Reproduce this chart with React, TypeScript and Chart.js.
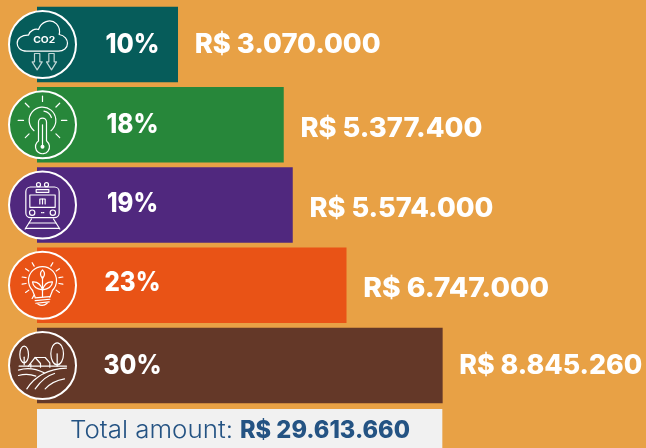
import React, { useEffect, useRef } from "react";
import { Chart, registerables } from "chart.js";

Chart.register(...registerables);

const categories = ["CO2", "Temperature", "Transport", "Energy", "Land"];
const amounts = [3070000, 5377400, 5574000, 6747000, 8845260];
const percents = ["10%", "18%", "19%", "23%", "30%"];
const amountLabels = ["R$ 3.070.000", "R$ 5.377.400", "R$ 5.574.000", "R$ 6.747.000", "R$ 8.845.260"];
const totalPrefix = "Total amount: ";
const totalValue = "R$ 29.613.660";

const colors = ["#065C5A", "#27873A", "#50287E", "#E95316", "#643828"];
const BG = "#E8A145";
const FONT = "Inter, 'Open Sans', sans-serif";
const pctDy = [0, 0, -1, -2, 0];
const pctW = [54, 52, 51, 56, 58];
const valDy = [0, 4, 4, 4, 0];
const valW = [186, 182, 184, 186, 183];

type C = CanvasRenderingContext2D;

function stretchText(ctx: C, s: string, x: number, y: number, w: number, align: "left" | "center" = "left") {
  const m = ctx.measureText(s).width;
  const k = w / m;
  ctx.save();
  ctx.translate(x, y);
  ctx.scale(k, 1);
  ctx.textAlign = align;
  ctx.fillText(s, 0, 0);
  ctx.restore();
}

function line(ctx: C, pts: number[]) {
  ctx.beginPath();
  ctx.moveTo(pts[0], pts[1]);
  for (let i = 2; i < pts.length; i += 2) ctx.lineTo(pts[i], pts[i + 1]);
  ctx.stroke();
}
function circle(ctx: C, x: number, y: number, r: number) {
  ctx.beginPath();
  ctx.arc(x, y, r, 0, Math.PI * 2);
  ctx.stroke();
}
function rays(ctx: C, cx: number, cy: number, r1: number, r2: number, angles: number[]) {
  angles.forEach((a) => {
    const t = (a * Math.PI) / 180;
    line(ctx, [cx + r1 * Math.cos(t), cy + r1 * Math.sin(t), cx + r2 * Math.cos(t), cy + r2 * Math.sin(t)]);
  });
}

// Each icon is drawn in a 3x local space centred on the badge
function iconCloud(ctx: C) {
  ctx.beginPath();
  ctx.moveTo(-47, 20);
  ctx.bezierCurveTo(-68, 20, -76, 7, -76, -4);
  ctx.bezierCurveTo(-76, -18, -62, -29, -42, -28);
  ctx.bezierCurveTo(-38, -43, -22, -48, -12, -45);
  ctx.bezierCurveTo(-5, -68, 24, -80, 42, -62);
  ctx.bezierCurveTo(50, -53, 53, -42, 50, -30);
  ctx.bezierCurveTo(67, -28, 75, -14, 75, -4);
  ctx.bezierCurveTo(75, 10, 63, 20, 48, 20);
  ctx.closePath();
  ctx.stroke();
  ctx.fillStyle = "#fff";
  ctx.font = `700 27px ${FONT}`;
  ctx.textAlign = "center";
  ctx.textBaseline = "middle";
  stretchText(ctx, "CO2", 5, -12, 66, "center");
  ctx.strokeStyle = "rgba(255,255,255,0.75)";
  [-16, 27].forEach((x) => {
    line(ctx, [x - 8, 27, x - 8, 52, x - 15, 52, x, 76, x + 15, 52, x + 8, 52, x + 8, 27, x - 8, 27]);
  });
}
function iconThermo(ctx: C) {
  rays(ctx, 0, -13, 57, 73, [0, 45, 135, 180, 225, 270, 315]);
  ctx.beginPath();
  ctx.arc(0, -13, 40, Math.PI * 0.72, Math.PI * 0.28);
  ctx.stroke();
  ctx.beginPath();
  ctx.arc(0, -13, 28, -Math.PI * 0.45, -Math.PI * 0.1);
  ctx.stroke();
  ctx.beginPath();
  ctx.moveTo(-12, 48);
  ctx.lineTo(-12, -8);
  ctx.arc(0, -8, 12, Math.PI, 0);
  ctx.lineTo(12, 48);
  ctx.arc(0, 66, 21, -Math.PI * 0.29, Math.PI * 1.29);
  ctx.closePath();
  ctx.stroke();
  line(ctx, [0, 0, 0, 60]);
  ctx.fillStyle = "#fff";
  ctx.beginPath();
  ctx.arc(0, 66, 6, 0, Math.PI * 2);
  ctx.fill();
}
function iconTrain(ctx: C) {
  ctx.beginPath();
  ctx.roundRect(-50, -54, 100, 92, 14);
  ctx.stroke();
  ctx.strokeRect(-19, -46, 38, 8);
  ctx.strokeRect(-38, -30, 76, 37);
  circle(ctx, -12, -61, 6);
  circle(ctx, 12, -61, 6);
  circle(ctx, -31, 23, 8);
  circle(ctx, 31, 23, 8);
  line(ctx, [-8, -3, -8, -18, 8, -18, 8, -3]);
  line(ctx, [0, -18, 0, -3]);
  line(ctx, [-33, 42, -52, 72]);
  line(ctx, [33, 42, 52, 72]);
  line(ctx, [-40, 54, 40, 54]);
  line(ctx, [-50, 70, 50, 70]);
  line(ctx, [-3, 23, -1, 23]);
  line(ctx, [2, 23, 4, 23]);
}
function iconBulb(ctx: C) {
  ctx.beginPath();
  ctx.arc(0, -14, 42, Math.PI * 0.75, Math.PI * 0.25);
  ctx.stroke();
  line(ctx, [-30, 16, -22, 36]);
  line(ctx, [30, 16, 22, 36]);
  line(ctx, [-22, 38, 22, 34]);
  line(ctx, [-22, 46, 22, 42]);
  line(ctx, [-20, 54, 20, 50]);
  ctx.beginPath();
  ctx.moveTo(-14, 56);
  ctx.quadraticCurveTo(0, 66, 14, 54);
  ctx.stroke();
  line(ctx, [0, -25, 0, 34]);
  ctx.beginPath();
  ctx.moveTo(0, -20);
  ctx.quadraticCurveTo(-12, -34, 0, -46);
  ctx.quadraticCurveTo(12, -34, 0, -20);
  ctx.stroke();
  ctx.beginPath();
  ctx.moveTo(0, 14);
  ctx.quadraticCurveTo(-28, 10, -30, -10);
  ctx.quadraticCurveTo(-8, -12, 0, 14);
  ctx.stroke();
  ctx.beginPath();
  ctx.moveTo(0, 14);
  ctx.quadraticCurveTo(28, 10, 30, -10);
  ctx.quadraticCurveTo(8, -12, 0, 14);
  ctx.stroke();
  rays(ctx, 0, -14, 50, 62, [-60, -35, -10, 10, 35, 120, 145, 170, 190, 215, 240]);
}
function iconFarm(ctx: C) {
  ctx.beginPath();
  ctx.ellipse(-55, -33, 13, 25, 0, 0, Math.PI * 2);
  ctx.stroke();
  line(ctx, [-55, -25, -55, -2]);
  ctx.beginPath();
  ctx.ellipse(44, -35, 19, 33, 0, 0, Math.PI * 2);
  ctx.stroke();
  line(ctx, [44, -35, 44, 2]);
  line(ctx, [-43, 3, -22, -24, 8, -24, 22, -8, 22, 5]);
  line(ctx, [-22, -24, -6, -6, -6, 5]);
  line(ctx, [-35, -4, -35, 5]);
  line(ctx, [-70, 2, 72, 2]);
  ctx.beginPath();
  ctx.moveTo(-72, 14);
  ctx.quadraticCurveTo(-35, 2, 5, 22);
  ctx.stroke();
  ctx.beginPath();
  ctx.moveTo(-72, 30);
  ctx.quadraticCurveTo(-45, 22, -20, 32);
  ctx.stroke();
  ctx.beginPath();
  ctx.moveTo(-47, 70);
  ctx.quadraticCurveTo(-10, 12, 72, 8);
  ctx.stroke();
  ctx.beginPath();
  ctx.moveTo(-22, 70);
  ctx.quadraticCurveTo(5, 32, 36, 24);
  ctx.stroke();
  ctx.beginPath();
  ctx.moveTo(8, 70);
  ctx.quadraticCurveTo(30, 46, 66, 40);
  ctx.stroke();
}
const icons = [iconCloud, iconThermo, iconTrain, iconBulb, iconFarm];

const decor = {
  id: "decor",
  beforeDraw(chart: Chart) {
    const ctx = chart.ctx;
    ctx.save();
    ctx.fillStyle = BG;
    ctx.fillRect(0, 0, chart.width, chart.height);
    ctx.restore();
  },
  afterDatasetsDraw(chart: Chart) {
    const ctx = chart.ctx;
    const meta = chart.getDatasetMeta(0);
    const x0 = chart.scales.x.getPixelForValue(0);
    meta.data.forEach((el: any, i: number) => {
      const cy = el.y;
      const cx = x0 + 5.5;
      ctx.save();
      ctx.beginPath();
      ctx.arc(cx, cy, 33.5, 0, Math.PI * 2);
      ctx.fillStyle = colors[i];
      ctx.fill();
      ctx.strokeStyle = "#fff";
      ctx.lineWidth = 2;
      ctx.stroke();
      ctx.translate(cx, cy);
      ctx.scale(1 / 3, 1 / 3);
      ctx.strokeStyle = "#fff";
      ctx.lineWidth = 3.6;
      ctx.lineJoin = "round";
      ctx.lineCap = "round";
      icons[i](ctx);
      ctx.restore();

      ctx.save();
      ctx.fillStyle = "#fff";
      ctx.textBaseline = "middle";
      ctx.font = `800 27px ${FONT}`;
      stretchText(ctx, percents[i], x0 + 95.5, cy + pctDy[i], pctW[i], "center");
      ctx.font = `800 27px ${FONT}`;
      stretchText(ctx, amountLabels[i], el.x + 17, cy + valDy[i], valW[i]);
      ctx.restore();
    });

    // total amount box
    const right = chart.scales.x.getPixelForValue(amounts[4]);
    ctx.save();
    ctx.fillStyle = "#F1F1F1";
    ctx.fillRect(x0, 409, right - x0, 39);
    ctx.fillStyle = "#245383";
    ctx.textBaseline = "middle";
    ctx.font = `300 24px ${FONT}`;
    stretchText(ctx, totalPrefix.trim(), 70, 431, 163);
    ctx.font = `800 24px ${FONT}`;
    stretchText(ctx, totalValue, 240, 431, 170);
    ctx.restore();
  },
};

export default function App() {
  const ref = useRef<HTMLCanvasElement>(null);
  useEffect(() => {
    document.body.style.margin = "0";
    const chart = new Chart(ref.current!, {
      type: "bar",
      data: {
        labels: categories,
        datasets: [
          {
            data: amounts,
            backgroundColor: colors,
            borderWidth: 0,
            barThickness: 75,
          },
        ],
      },
      options: {
        indexAxis: "y",
        animation: false,
        responsive: false,
        layout: { padding: { left: 37, right: 0, top: 4.4, bottom: 42.4 } },
        plugins: { legend: { display: false }, tooltip: { enabled: false } },
        scales: {
          x: { display: false, min: 0, max: 13290000 },
          y: { display: false },
        },
      },
      plugins: [decor],
    });
    return () => chart.destroy();
  }, []);
  return (
    <div style={{ position: "absolute", left: 0, top: 0, width: 646, height: 448, overflow: "hidden" }}>
      <canvas ref={ref} width={646} height={448} style={{ display: "block" }} />
    </div>
  );
}
